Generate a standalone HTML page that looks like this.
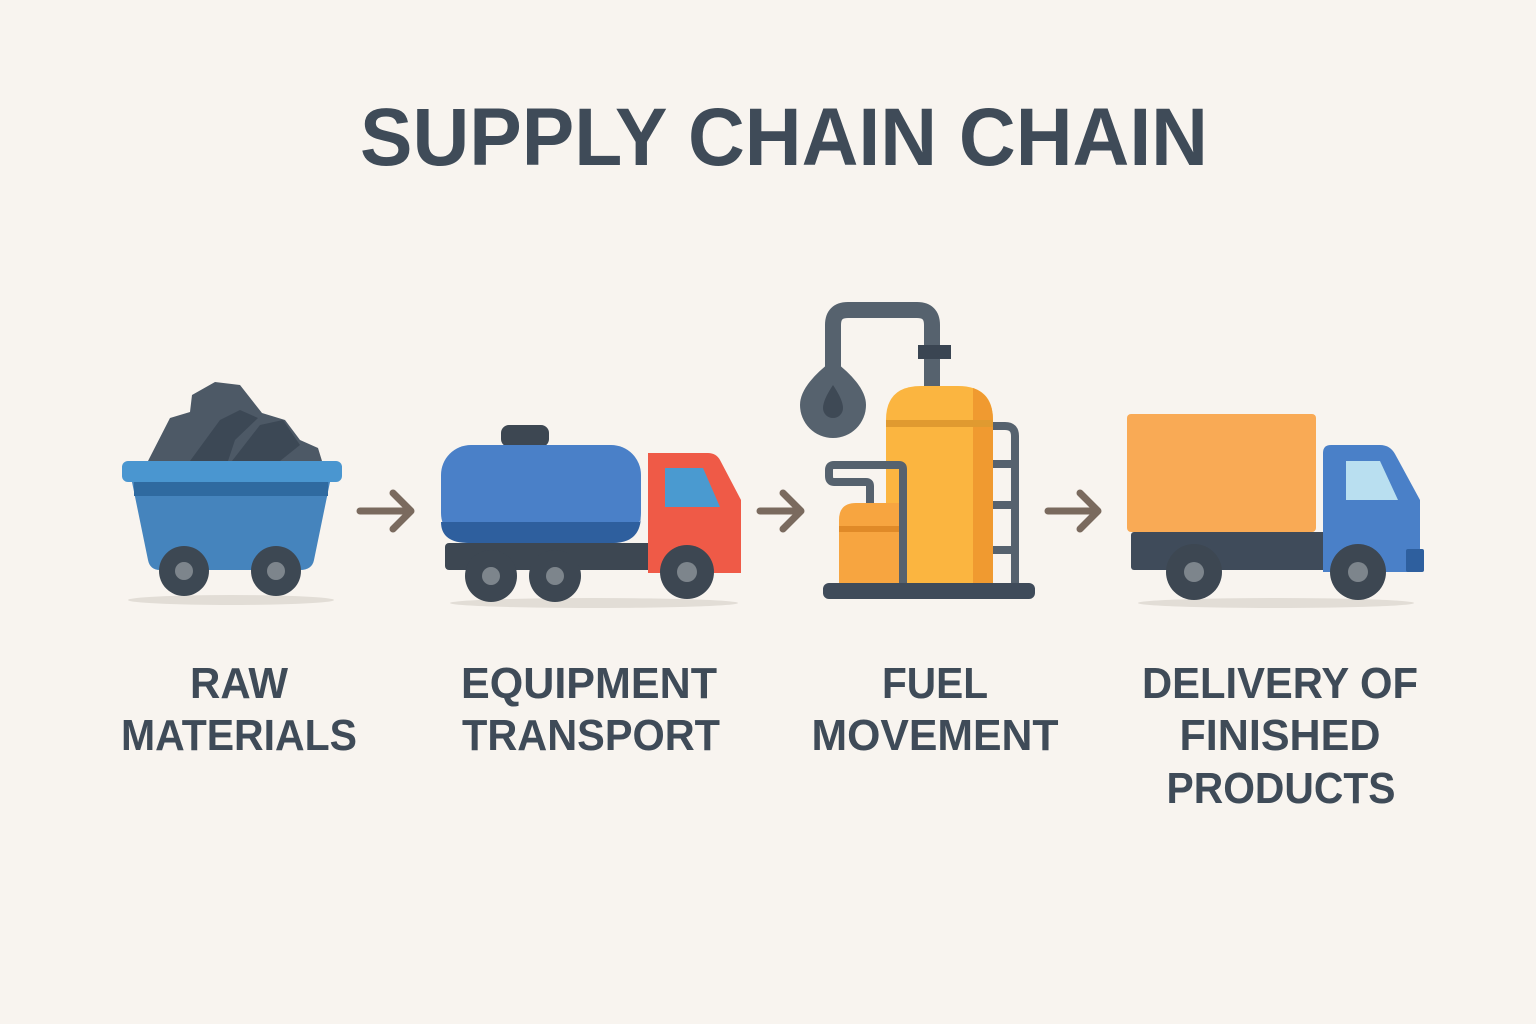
<!DOCTYPE html>
<html><head><meta charset="utf-8"><style>
html,body{margin:0;padding:0;background:#f8f4ef;}
svg{display:block;}
text{font-family:"Liberation Sans",sans-serif;font-weight:bold;fill:#3f4b58;}
</style></head><body>
<svg width="1536" height="1024" viewBox="0 0 1536 1024" xmlns="http://www.w3.org/2000/svg">
<rect width="1536" height="1024" fill="#f8f4ef"/>
<text x="784" y="165" font-size="82" text-anchor="middle" textLength="848" lengthAdjust="spacingAndGlyphs">SUPPLY CHAIN CHAIN</text>

<!-- cart -->
<ellipse cx="231" cy="600" rx="103" ry="5" fill="#e2ddd6"/>
<path d="M148,461 L170,418 L190,412 L192,395 L215,382 L240,385 L262,413 L285,420 L300,440 L318,448 L322,461 Z" fill="#4d5966"/>
<path d="M190,461 L220,420 L240,410 L258,418 L235,440 L228,461 Z M232,461 L260,425 L283,420 L300,445 L280,461 Z" fill="#3c4855"/>
<path d="M132,482 L330,482 L314,560 Q312,570 300,570 L160,570 Q150,570 148,560 Z" fill="#4584bd"/>
<rect x="134" y="482" width="194" height="14" fill="#2f6aa0"/>
<rect x="122" y="461" width="220" height="21" rx="6" fill="#4a96d0"/>
<circle cx="184" cy="571" r="25" fill="#3d4853"/><circle cx="184" cy="571" r="9" fill="#7d858c"/>
<circle cx="276" cy="571" r="25" fill="#3d4853"/><circle cx="276" cy="571" r="9" fill="#7d858c"/>

<!-- arrows -->
<g stroke="#7a6a5e" stroke-width="7" stroke-linecap="round" stroke-linejoin="round" fill="none">
<path d="M360,511 H410 M393,493 L411,511 L393,529"/>
<path d="M760,511 H799 M783,493 L801,511 L783,529"/>
<path d="M1048,511 H1096 M1080,493 L1098,511 L1080,529"/>
</g>

<!-- tanker -->
<ellipse cx="594" cy="603" rx="144" ry="5" fill="#e2ddd6"/>
<rect x="501" y="425" width="48" height="22" rx="8" fill="#3d4752"/>
<rect x="441" y="445" width="200" height="98" rx="30" fill="#4a80c8"/>
<path d="M441,522 H641 V515 Q641,543 613,543 H469 Q441,543 441,522 Z" fill="#2e5f9e"/>
<rect x="445" y="543" width="215" height="27" rx="4" fill="#3d4752"/>
<path d="M648,453 H708 Q716,453 720,460 L741,500 V573 H648 Z" fill="#ef5a47"/>
<path d="M665,468 H703 L720,507 H665 Z" fill="#4a9ad0"/>
<circle cx="491" cy="576" r="26" fill="#3d4752"/><circle cx="491" cy="576" r="9" fill="#7d858c"/>
<circle cx="555" cy="576" r="26" fill="#3d4752"/><circle cx="555" cy="576" r="9" fill="#7d858c"/>
<circle cx="687" cy="572" r="27" fill="#3d4752"/><circle cx="687" cy="572" r="10" fill="#7d858c"/>

<!-- fuel -->
<path d="M833,370 V325 Q833,310 848,310 H917 Q932,310 932,325 V390" fill="none" stroke="#56626e" stroke-width="16"/>
<rect x="918" y="345" width="33" height="14" fill="#3a4552"/>
<path d="M833,360 Q800,385 800,405 A33,33 0 0 0 866,405 Q866,385 833,360 Z" fill="#56626e"/>
<path d="M833,385 Q823,400 823,408 A10,10 0 0 0 843,408 Q843,400 833,385 Z" fill="#3e4955"/>
<path d="M886,420 Q886,386 921,386 H958 Q993,386 993,420 V583 H886 Z" fill="#fbb540"/>
<path d="M973,388 Q993,395 993,420 V583 H973 Z" fill="#f09a30"/>
<rect x="886" y="420" width="107" height="7" fill="#e09a30"/>
<g fill="none" stroke="#56626e" stroke-width="8">
<path d="M993,426 H1005 Q1015,426 1015,436 V585"/>
<path d="M993,464 H1015 M993,505 H1015 M993,550 H1015"/>
<path d="M870,503 V486 Q870,482 866,482 H834 Q829,482 829,476 V470 Q829,465 834,465 H899 Q903,465 903,469 V585"/>
</g>
<path d="M839,520 Q839,503 856,503 H899 V583 H839 Z" fill="#f7a540"/>
<rect x="839" y="526" width="60" height="6" fill="#e08a28"/>
<rect x="823" y="583" width="212" height="16" rx="6" fill="#3f4b5a"/>

<!-- truck -->
<ellipse cx="1276" cy="603" rx="138" ry="5" fill="#e2ddd6"/>
<rect x="1127" y="414" width="189" height="118" rx="4" fill="#f9aa55"/>
<rect x="1131" y="532" width="199" height="38" rx="3" fill="#3f4b5a"/>
<path d="M1323,453 Q1323,445 1331,445 H1380 Q1390,445 1395,454 L1420,500 V572 H1323 Z" fill="#4a80c8"/>
<path d="M1346,461 H1380 L1398,500 H1346 Z" fill="#b9dff0"/>
<rect x="1406" y="549" width="18" height="23" rx="2" fill="#2e5f9e"/>
<circle cx="1194" cy="572" r="28" fill="#3d4752"/><circle cx="1194" cy="572" r="10" fill="#7d858c"/>
<circle cx="1358" cy="572" r="28" fill="#3d4752"/><circle cx="1358" cy="572" r="10" fill="#7d858c"/>

<!-- labels -->
<g font-size="44">
<text x="239" y="698" text-anchor="middle" textLength="98" lengthAdjust="spacingAndGlyphs">RAW</text>
<text x="239" y="750" text-anchor="middle" textLength="236" lengthAdjust="spacingAndGlyphs">MATERIALS</text>
<text x="589" y="698" text-anchor="middle" textLength="256" lengthAdjust="spacingAndGlyphs">EQUIPMENT</text>
<text x="591" y="750" text-anchor="middle" textLength="258" lengthAdjust="spacingAndGlyphs">TRANSPORT</text>
<text x="935" y="698" text-anchor="middle" textLength="106" lengthAdjust="spacingAndGlyphs">FUEL</text>
<text x="935" y="750" text-anchor="middle" textLength="247" lengthAdjust="spacingAndGlyphs">MOVEMENT</text>
<text x="1280" y="698" text-anchor="middle" textLength="276" lengthAdjust="spacingAndGlyphs">DELIVERY OF</text>
<text x="1280" y="750" text-anchor="middle" textLength="201" lengthAdjust="spacingAndGlyphs">FINISHED</text>
<text x="1281" y="803" text-anchor="middle" textLength="229" lengthAdjust="spacingAndGlyphs">PRODUCTS</text>
</g>
</svg>
</body></html>
